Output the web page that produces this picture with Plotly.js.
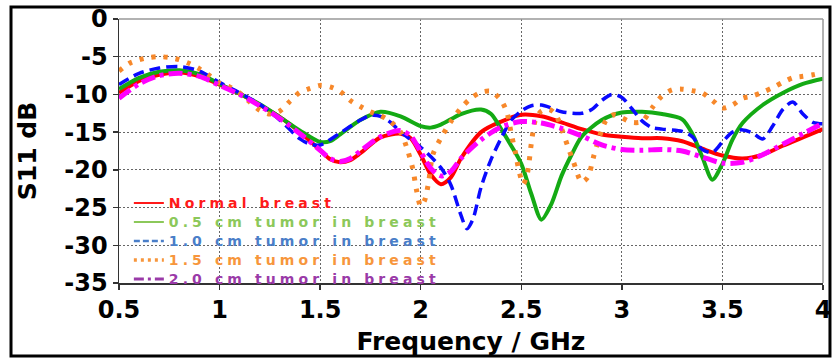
<!DOCTYPE html>
<html>
<head>
<meta charset="utf-8">
<script src="https://cdn.plot.ly/plotly-3.0.1.min.js"></script>
<style>
  html, body { margin: 0; padding: 0; background: #fff; }
  #chart { width: 832px; height: 360px; }
</style>
</head>
<body>
<div id="chart"></div>
<script>
// ---- Data ----
const freqNormal = [0.5,0.6,0.7,0.8,0.9,1.0,1.1,1.2,1.3,1.4,1.5,1.55,1.6,1.65,1.7,1.8,1.9,1.95,2.0,2.05,2.1,2.15,2.2,2.3,2.4,2.5,2.6,2.7,2.8,2.9,3.0,3.1,3.2,3.3,3.4,3.5,3.6,3.7,3.8,3.9,4.0];
const s11Normal  = [-9.8,-8.2,-7.4,-7.1,-7.6,-8.7,-9.9,-11.4,-13.0,-15.0,-17.4,-18.6,-19.0,-18.7,-17.8,-15.7,-15.2,-15.8,-18.0,-20.6,-21.9,-21.0,-18.5,-15.0,-13.6,-12.7,-12.9,-13.7,-14.6,-15.3,-15.6,-15.8,-15.8,-16.2,-17.2,-18.1,-18.5,-18.0,-16.8,-15.7,-14.6];

const freqT05 = [0.5,0.6,0.7,0.8,0.9,1.0,1.1,1.2,1.3,1.4,1.5,1.55,1.6,1.7,1.8,1.9,2.0,2.05,2.1,2.2,2.3,2.35,2.4,2.45,2.5,2.55,2.6,2.65,2.7,2.75,2.8,2.9,3.0,3.1,3.2,3.3,3.35,3.4,3.45,3.5,3.55,3.6,3.7,3.8,3.9,4.0];
const s11T05  = [-9.3,-7.8,-7.0,-6.8,-7.3,-8.6,-9.9,-11.3,-13.0,-14.8,-16.3,-16.2,-15.3,-13.4,-12.3,-12.9,-14.2,-14.4,-14.0,-12.6,-12.0,-12.6,-14.6,-16.8,-19.2,-23.2,-26.6,-24.5,-20.8,-18.0,-15.6,-13.4,-12.4,-12.3,-12.6,-13.3,-15.2,-18.3,-21.3,-19.2,-16.0,-13.8,-11.4,-9.8,-8.6,-7.9];

const freqT10 = [0.5,0.6,0.7,0.8,0.9,1.0,1.1,1.2,1.3,1.4,1.45,1.5,1.6,1.7,1.75,1.8,1.85,1.9,2.0,2.1,2.15,2.2,2.23,2.26,2.3,2.35,2.4,2.45,2.5,2.55,2.6,2.65,2.7,2.8,2.85,2.9,2.95,3.0,3.05,3.1,3.15,3.2,3.3,3.35,3.4,3.45,3.5,3.55,3.6,3.65,3.7,3.75,3.8,3.85,3.9,3.95,4.0];
const s11T10  = [-8.7,-7.2,-6.5,-6.3,-6.9,-8.4,-9.8,-11.3,-13.4,-15.9,-16.6,-16.7,-15.1,-13.4,-12.8,-12.9,-13.7,-15.0,-17.0,-19.7,-22.0,-26.0,-27.8,-26.5,-22.3,-18.6,-15.8,-13.4,-12.2,-11.5,-11.4,-11.8,-12.3,-12.5,-12.0,-10.8,-10.0,-10.4,-11.9,-13.5,-14.4,-14.6,-14.9,-15.6,-17.3,-17.7,-16.3,-15.0,-14.7,-15.1,-15.9,-14.2,-12.0,-11.0,-12.6,-13.7,-13.9];

const freqT15 = [0.5,0.55,0.6,0.65,0.7,0.75,0.8,0.85,0.9,0.95,1.0,1.05,1.1,1.15,1.2,1.25,1.3,1.35,1.4,1.45,1.5,1.55,1.6,1.65,1.7,1.75,1.8,1.85,1.9,1.93,1.96,1.98,2.0,2.02,2.04,2.06,2.1,2.15,2.2,2.25,2.3,2.35,2.4,2.43,2.45,2.47,2.49,2.51,2.53,2.55,2.57,2.6,2.64,2.67,2.7,2.73,2.76,2.8,2.83,2.86,2.89,2.92,2.96,3.0,3.05,3.1,3.15,3.2,3.25,3.3,3.35,3.4,3.45,3.5,3.55,3.6,3.65,3.7,3.75,3.8,3.85,3.9,3.95,4.0];
const s11T15  = [-6.9,-5.9,-5.4,-5.1,-5.0,-5.1,-5.4,-5.9,-6.6,-7.5,-8.5,-9.0,-9.8,-11.0,-12.1,-12.6,-12.2,-10.9,-9.7,-9.2,-8.8,-9.0,-9.6,-10.8,-11.6,-12.3,-12.8,-13.6,-15.0,-17.0,-19.8,-22.8,-24.8,-24.0,-21.5,-18.0,-15.8,-13.6,-11.8,-10.5,-9.7,-9.6,-10.8,-12.5,-15.2,-17.6,-20.3,-21.9,-20.5,-16.5,-13.4,-12.2,-12.0,-12.6,-14.5,-16.8,-19.0,-21.6,-21.0,-18.2,-15.5,-13.5,-12.7,-13.1,-13.7,-13.6,-11.8,-10.2,-9.4,-9.3,-9.5,-9.8,-10.8,-11.8,-11.4,-10.5,-10.2,-9.7,-9.1,-8.4,-7.8,-7.6,-7.4,-7.1];

const freqT20 = [0.5,0.6,0.7,0.8,0.9,1.0,1.1,1.2,1.3,1.4,1.5,1.55,1.6,1.65,1.7,1.8,1.9,1.95,2.0,2.05,2.1,2.15,2.2,2.3,2.4,2.5,2.6,2.7,2.8,2.9,3.0,3.1,3.2,3.3,3.4,3.5,3.6,3.7,3.8,3.9,4.0];
const s11T20  = [-10.5,-8.6,-7.5,-7.2,-7.6,-8.8,-10.0,-11.5,-13.2,-15.2,-17.4,-18.5,-18.9,-18.5,-17.5,-15.6,-14.8,-15.5,-17.6,-19.8,-20.8,-20.2,-18.5,-16.0,-14.3,-13.6,-13.8,-14.5,-15.5,-16.7,-17.3,-17.4,-17.3,-17.5,-18.3,-19.1,-19.0,-18.0,-16.6,-15.2,-13.8];

const seriesNames = ['Normal breast','0.5 cm tumor in breast','1.0 cm tumor in breast','1.5 cm tumor in breast','2.0 cm tumor in breast'];
const xTickVals = [0.5,1,1.5,2,2.5,3,3.5,4];
const xTickText = ['0.5','1','1.5','2','2.5','3','3.5','4'];
const yTickVals = [0,-5,-10,-15,-20,-25,-30,-35];
const yTickText = ['0','-5','-10','-15','-20','-25','-30','-35'];

// ---- Styles ----
const lineColors   = ['#ff0000','#14aa14','#0a0aff','#f7882a','#ff00ff'];
const lineWidths   = [4,4,3.5,5,5];
const lineDashes   = ['solid','solid','11px,6px','4px,8px','14px,5px,4px,5px'];
const legendColors = ['#ff1a1a','#8cc85a','#4a7ec8','#f7963c','#9a3aa8'];
const legendDashes = ['solid','solid','6px,3px','3px,4px','10px,4px,3px,4px'];
const legendWidths = [2,2,2.5,3.5,3];

const xs = [freqNormal,freqT05,freqT10,freqT15,freqT20];
const ys = [s11Normal,s11T05,s11T10,s11T15,s11T20];
const FONT = 'DejaVu Sans, Verdana, sans-serif';

const traces = [];
for (let i = 0; i < 5; i++) {
  traces.push({
    x: xs[i], y: ys[i], type: 'scatter', mode: 'lines',
    name: seriesNames[i], showlegend: false,
    line: {color: lineColors[i], width: lineWidths[i], dash: lineDashes[i], shape: 'spline', smoothing: 0.8}
  });
}
// legend entries (legend styling only)
for (let i = 0; i < 5; i++) {
  traces.push({
    x: [null], y: [null], type: 'scatter', mode: 'lines',
    name: '<span style="color:' + legendColors[i] + ';font-size:14px;font-weight:bold;letter-spacing:4.1px">' + seriesNames[i] + '</span>',
    showlegend: true, hoverinfo: 'skip',
    line: {color: legendColors[i], width: legendWidths[i], dash: legendDashes[i]}
  });
}

const gridDash = '1.5px,2.5px';
const layout = {
  width: 832, height: 360,
  margin: {l: 119, r: 9, t: 19, b: 77, pad: 0},
  paper_bgcolor: '#fff', plot_bgcolor: '#fff',
  font: {family: FONT, color: '#000'},
  showlegend: true,
  legend: {
    x: 0.014, y: 0.358, xanchor: 'left', yanchor: 'top',
    bgcolor: 'rgba(0,0,0,0)', borderwidth: 0,
    font: {family: FONT, size: 12, weight: 'bold'},
    tracegroupgap: 0, itemwidth: 30
  },
  xaxis: {
    range: [0.5, 4], tickmode: 'array', tickvals: xTickVals, ticktext: xTickText,
    ticks: 'outside', ticklen: 5, tickwidth: 1.5, tickcolor: '#333',
    showline: true, linecolor: '#333', linewidth: 1.5,
    showgrid: true, gridcolor: '#666', gridwidth: 1, griddash: gridDash,
    zeroline: false,
    tickfont: {family: FONT, size: 24, weight: 'bold', color: '#000'},
    title: {text: 'Frequency / GHz', font: {family: FONT, size: 25, weight: 'bold', color: '#000'}, standoff: 9}
  },
  yaxis: {
    range: [-35, 0], tickmode: 'array', tickvals: yTickVals, ticktext: yTickText,
    ticks: 'outside', ticklen: 5, tickwidth: 1.5, tickcolor: '#333',
    showline: true, linecolor: '#333', linewidth: 1.5,
    showgrid: true, gridcolor: '#666', gridwidth: 1, griddash: gridDash,
    zeroline: false,
    tickfont: {family: FONT, size: 24, weight: 'bold', color: '#000'},
    title: {text: 'S11 dB', font: {family: FONT, size: 25, weight: 'bold', color: '#000'}, standoff: 20}
  },
  shapes: [
    {type: 'line', xref: 'paper', yref: 'paper', x0: 0, x1: 1, y0: 1, y1: 1, line: {color: '#999', width: 1.5}},
    {type: 'line', xref: 'paper', yref: 'paper', x0: 1, x1: 1, y0: 0, y1: 1, line: {color: '#999', width: 1.5}},
    {type: 'rect', xref: 'paper', yref: 'paper', x0: -0.1534, x1: 1.0099, y0: -0.2765, y1: 1.0455, line: {color: '#000', width: 3}, fillcolor: 'rgba(0,0,0,0)', layer: 'above'}
  ]
};

Plotly.newPlot('chart', traces, layout, {staticPlot: true, displayModeBar: false});
</script>
</body>
</html>
